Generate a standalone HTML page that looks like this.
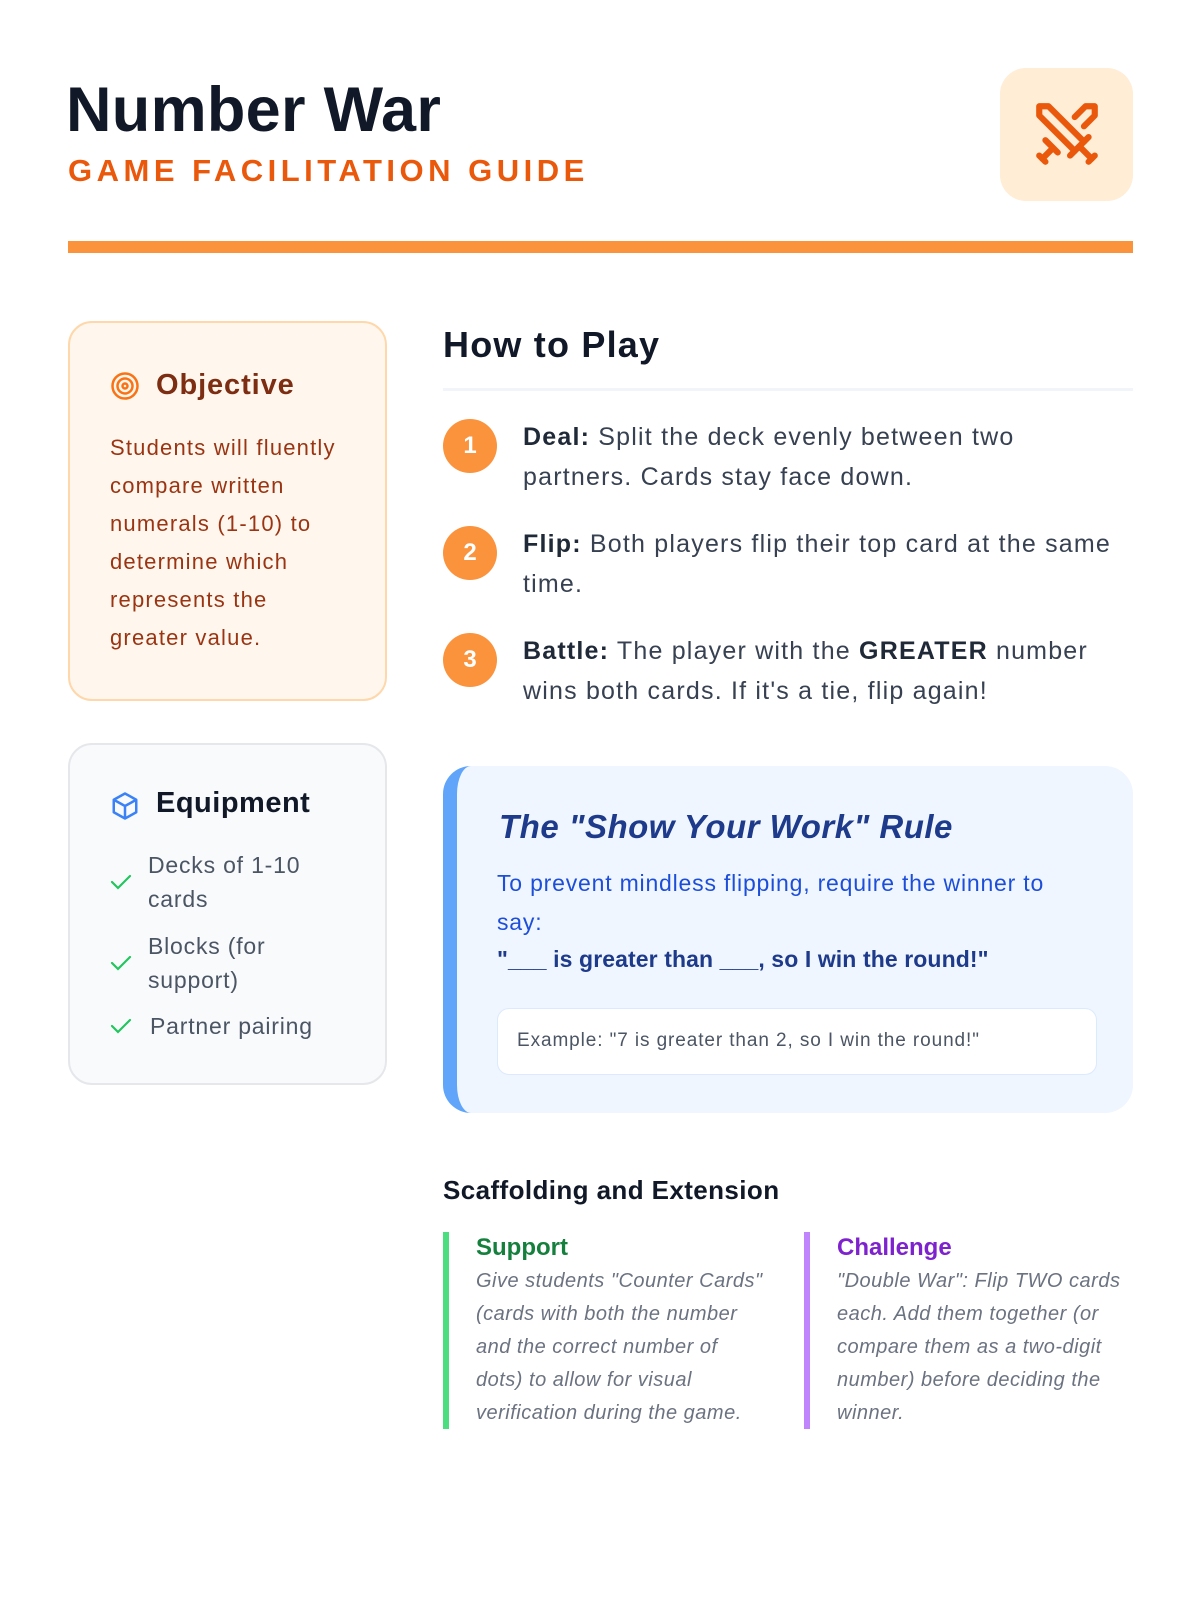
<!DOCTYPE html>
<html><head><meta charset="utf-8"><style>
*{margin:0;padding:0;box-sizing:border-box}
body{width:1200px;height:1600px;background:#fff;font-family:"Liberation Sans",sans-serif;position:relative;overflow:hidden}
.a{position:absolute;white-space:nowrap}
</style></head><body>
<div class="a" style="left:66px;top:74px;font-size:63px;font-weight:bold;color:#111827;letter-spacing:0.3px">Number War</div>
<div class="a" style="left:68px;top:153px;font-size:31px;font-weight:bold;color:#ea580c;letter-spacing:4.5px">GAME FACILITATION GUIDE</div>
<div class="a" style="left:1000px;top:68px;width:133px;height:133px;border-radius:26px;background:#ffedd5"></div>
<svg class="a" style="left:1030px;top:97px" width="74" height="74" viewBox="0 0 24 24" fill="none" stroke="#ea580c" stroke-width="2" stroke-linecap="round" stroke-linejoin="round"><polyline points="14.5 17.5 3 6 3 3 6 3 17.5 14.5"/><line x1="13" y1="19" x2="19" y2="13"/><line x1="16" y1="16" x2="20" y2="20"/><line x1="19" y1="21" x2="21" y2="19"/><polyline points="14.5 6.5 18 3 21 3 21 6 17.5 9.5"/><line x1="5" y1="14" x2="9" y2="18"/><line x1="7" y1="17" x2="4" y2="20"/><line x1="3" y1="19" x2="5" y2="21"/></svg>
<div class="a" style="left:68px;top:241px;width:1065px;height:12px;background:#fb923c"></div>

<div class="a" style="left:68px;top:321px;width:319px;height:380px;border-radius:24px;background:#fff7ed;border:2px solid #fed7aa"></div>
<svg class="a" style="left:110px;top:371px" width="30" height="30" viewBox="0 0 24 24" fill="none" stroke="#f97316" stroke-width="2"><circle cx="12" cy="12" r="10"/><circle cx="12" cy="12" r="6"/><circle cx="12" cy="12" r="2"/></svg>
<div class="a" style="left:156px;top:369px;font-size:29px;font-weight:bold;color:#7c2d12;letter-spacing:0.9px">Objective</div>
<div class="a" style="left:110px;top:429px;font-size:22px;line-height:38px;color:#9a3412;letter-spacing:1.2px">Students will fluently<br>compare written<br>numerals (1-10) to<br>determine which<br>represents the<br>greater value.</div>

<div class="a" style="left:68px;top:743px;width:319px;height:342px;border-radius:24px;background:#f8fafc;border:2px solid #e5e7eb"></div>
<svg class="a" style="left:110px;top:791px" width="30" height="30" viewBox="0 0 24 24" fill="none" stroke="#3b82f6" stroke-width="2" stroke-linejoin="round"><path d="M12 2l9 5v10l-9 5-9-5V7z"/><path d="M3 7l9 5 9-5M12 12v10"/></svg>
<div class="a" style="left:156px;top:787px;font-size:29px;font-weight:bold;color:#111827;letter-spacing:0.5px">Equipment</div>
<svg class="a" style="left:110px;top:874px" width="22" height="16" viewBox="0 0 22 16" fill="none" stroke="#22c55e" stroke-width="2.2" stroke-linecap="round"><path d="M2 8l6 6L20 2"/></svg>
<div class="a" style="left:148px;top:848px;font-size:23px;line-height:34px;color:#4b5563;letter-spacing:0.8px">Decks of 1-10<br>cards</div>
<svg class="a" style="left:110px;top:955px" width="22" height="16" viewBox="0 0 22 16" fill="none" stroke="#22c55e" stroke-width="2.2" stroke-linecap="round"><path d="M2 8l6 6L20 2"/></svg>
<div class="a" style="left:148px;top:929px;font-size:23px;line-height:34px;color:#4b5563;letter-spacing:0.8px">Blocks (for<br>support)</div>
<svg class="a" style="left:110px;top:1018px" width="22" height="16" viewBox="0 0 22 16" fill="none" stroke="#22c55e" stroke-width="2.2" stroke-linecap="round"><path d="M2 8l6 6L20 2"/></svg>
<div class="a" style="left:150px;top:1009px;font-size:23px;line-height:34px;color:#4b5563;letter-spacing:0.8px">Partner pairing</div>

<div class="a" style="left:443px;top:324px;font-size:36px;font-weight:bold;color:#111827;letter-spacing:1.2px">How to Play</div>
<div class="a" style="left:443px;top:388px;width:690px;height:3px;background:#f1f5f9"></div>

<div class="a" style="left:443px;top:419px;width:54px;height:54px;border-radius:50%;background:#fb923c;color:#fff;font-size:24px;font-weight:bold;text-align:center;line-height:54px">1</div>
<div class="a" style="left:523px;top:417px;font-size:25px;line-height:40px;color:#374151;letter-spacing:1.2px"><b style="color:#1f2937">Deal:</b> Split the deck evenly between two<br>partners. Cards stay face down.</div>
<div class="a" style="left:443px;top:526px;width:54px;height:54px;border-radius:50%;background:#fb923c;color:#fff;font-size:24px;font-weight:bold;text-align:center;line-height:54px">2</div>
<div class="a" style="left:523px;top:524px;font-size:25px;line-height:40px;color:#374151;letter-spacing:1.2px"><b style="color:#1f2937">Flip:</b> Both players flip their top card at the same<br>time.</div>
<div class="a" style="left:443px;top:633px;width:54px;height:54px;border-radius:50%;background:#fb923c;color:#fff;font-size:24px;font-weight:bold;text-align:center;line-height:54px">3</div>
<div class="a" style="left:523px;top:631px;font-size:25px;line-height:40px;color:#374151;letter-spacing:1.2px"><b style="color:#1f2937">Battle:</b> The player with the <b style="color:#1f2937">GREATER</b> number<br>wins both cards. If it's a tie, flip again!</div>

<div class="a" style="left:443px;top:766px;width:690px;height:347px;border-radius:28px;background:#eff6ff;border-left:14px solid #60a5fa"></div>
<div class="a" style="left:499px;top:808px;font-size:33px;font-weight:bold;font-style:italic;color:#1e3a8a;letter-spacing:0.5px">The "Show Your Work" Rule</div>
<div class="a" style="left:497px;top:864px;font-size:23px;line-height:39px;color:#1d4ed8;letter-spacing:0.8px">To prevent mindless flipping, require the winner to<br>say:</div>
<div class="a" style="left:497px;top:946px;font-size:23px;font-weight:bold;color:#1e3a8a;letter-spacing:0.1px">"___ is greater than ___, so I win the round!"</div>
<div class="a" style="left:497px;top:1008px;width:600px;height:67px;border-radius:12px;background:#fff;border:1px solid #dbeafe"></div>
<div class="a" style="left:517px;top:1030px;font-size:19px;color:#4b5563;letter-spacing:0.9px">Example: "7 is greater than 2, so I win the round!"</div>

<div class="a" style="left:443px;top:1175px;font-size:26px;font-weight:bold;color:#111827;letter-spacing:0.4px">Scaffolding and Extension</div>
<div class="a" style="left:443px;top:1232px;width:6px;height:197px;background:#4ade80"></div>
<div class="a" style="left:476px;top:1234px;font-size:24px;font-weight:bold;color:#15803d">Support</div>
<div class="a" style="left:476px;top:1265px;font-size:20px;line-height:33px;font-style:italic;color:#6b7280;letter-spacing:0.5px">Give students "Counter Cards"<br>(cards with both the number<br>and the correct number of<br>dots) to allow for visual<br>verification during the game.</div>
<div class="a" style="left:804px;top:1232px;width:6px;height:197px;background:#c084fc"></div>
<div class="a" style="left:837px;top:1234px;font-size:24px;font-weight:bold;color:#7e22ce">Challenge</div>
<div class="a" style="left:837px;top:1265px;font-size:20px;line-height:33px;font-style:italic;color:#6b7280;letter-spacing:0.5px">"Double War": Flip TWO cards<br>each. Add them together (or<br>compare them as a two-digit<br>number) before deciding the<br>winner.</div>
</body></html>
